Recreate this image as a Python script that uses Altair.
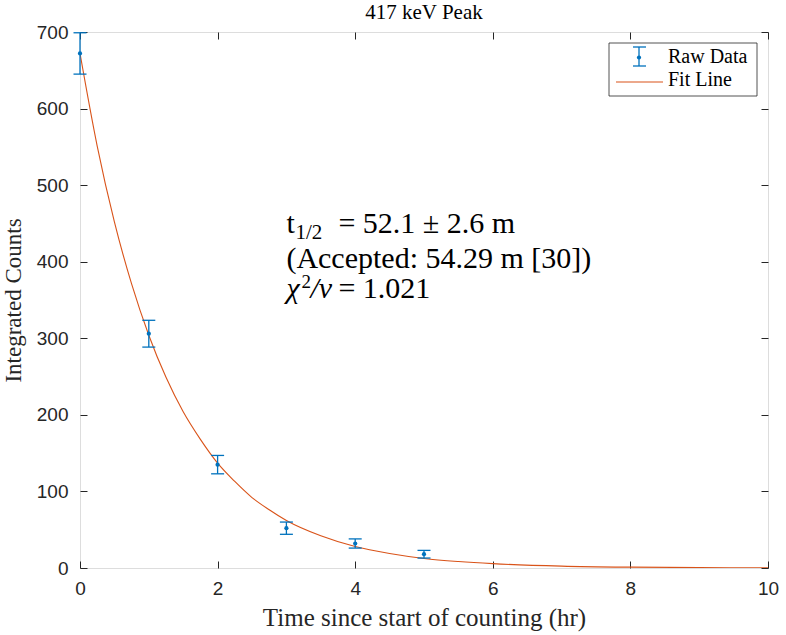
import altair as alt
import pandas as pd

# ---- data ----
time_hr = [0, 1, 2, 3, 4, 5]
counts = [672, 306, 135, 52, 32, 18]
count_err = [27, 17.5, 12, 8, 6, 5]

fit_t = [0, 0.25, 0.5, 0.75, 1, 1.25, 1.5, 1.75, 2, 2.25, 2.5, 2.75, 3,
         3.5, 4, 4.5, 5, 5.5, 6, 7, 8, 9, 10]
fit_c = [672, 551, 452, 371, 304, 249, 204, 168, 137, 113, 92, 76, 62,
         42, 28, 19, 12.5, 8.5, 5.7, 2.5, 1.1, 0.5, 0.2]

x_ticks = [0, 2, 4, 6, 8, 10]
y_ticks = [0, 100, 200, 300, 400, 500, 600, 700]

title_text = "417 keV Peak"
x_title = "Time since start of counting (hr)"
y_title = "Integrated Counts"
legend_labels = ["Raw Data", "Fit Line"]
ann_line1 = ["t", "1/2", "= 52.1 ± 2.6 m"]
ann_line2 = "(Accepted: 54.29 m [30])"
ann_line3 = ["χ", "2", "/ν", "= 1.021"]

BLUE = "#0072BD"
ORANGE = "#D95319"
AX = "#262626"
SERIF = "Liberation Serif"
SANS = "Liberation Sans"

pts = pd.DataFrame({"t": time_hr, "c": counts, "e": count_err})
pts["lo"] = pts["c"] - pts["e"]
pts["hi"] = pts["c"] + pts["e"]
fit = pd.DataFrame({"t": fit_t, "c": fit_c})

xs = alt.Scale(domain=[0, 10], nice=False, zero=False)
ys = alt.Scale(domain=[0, 700], nice=False, zero=False)

ax_bottom = alt.Axis(orient="bottom", offset=-7, tickSize=7, values=x_ticks, domain=False,
                     labelFlush=False, labelPadding=11, labelFont=SANS, labelFontSize=19,
                     labelColor=AX, tickColor=AX, grid=False, title=x_title,
                     titleFont=SERIF, titleFontSize=25, titleFontWeight="normal",
                     titleColor=AX, titlePadding=7)
ax_left = alt.Axis(orient="left", offset=-7, tickSize=7, values=y_ticks, domain=False,
                   labelFlush=False, labelPadding=12, labelFont=SANS, labelFontSize=19,
                   labelColor=AX, tickColor=AX, grid=False, title=y_title,
                   titleFont=SERIF, titleFontSize=23, titleFontWeight="normal",
                   titleColor=AX, titlePadding=11)
ax_top = alt.Axis(orient="top", offset=-7, tickSize=7, values=x_ticks, domain=False,
                  labels=False, tickColor=AX, grid=False, title=None)
ax_right = alt.Axis(orient="right", offset=-7, tickSize=7, values=y_ticks, domain=False,
                    labels=False, tickColor=AX, grid=False, title=None)

fit_line = alt.Chart(fit).mark_line(color=ORANGE, strokeWidth=1.1, interpolate="monotone", clip=True).encode(
    x=alt.X("t:Q", scale=xs, axis=ax_bottom),
    y=alt.Y("c:Q", scale=ys, axis=ax_left),
)

bars = alt.Chart(pts).mark_rule(color=BLUE, strokeWidth=1.3).encode(
    x=alt.X("t:Q", scale=xs, axis=ax_top),
    y=alt.Y("lo:Q", scale=ys, axis=ax_right),
    y2="hi:Q",
)

caps = alt.Chart(pts).transform_fold(["lo", "hi"], as_=["k", "v"]).mark_tick(
    color=BLUE, orient="horizontal", size=13, thickness=1.3, opacity=1).encode(
    x=alt.X("t:Q", scale=xs, axis=None),
    y=alt.Y("v:Q", scale=ys, axis=None),
)

dots = alt.Chart(pts).mark_circle(color=BLUE, size=18, opacity=1).encode(
    x=alt.X("t:Q", scale=xs, axis=None),
    y=alt.Y("c:Q", scale=ys, axis=None),
)

# annotation (anchored in data coordinates)
ann_t = 3.0
ann_ys = [437, 392, 353]


def ann(text, yv, dx=0, dy=0, size=30, style="normal"):
    return alt.Chart(pd.DataFrame({"t": [ann_t], "c": [yv]})).mark_text(
        text=text, align="left", baseline="alphabetic", font=SERIF, fontSize=size,
        fontStyle=style, color="black", dx=dx, dy=dy).encode(
        x=alt.X("t:Q", scale=xs, axis=None),
        y=alt.Y("c:Q", scale=ys, axis=None),
    )


annotations = [
    ann(ann_line1[0], ann_ys[0]),
    ann(ann_line1[1], ann_ys[0], dx=9, dy=6, size=21),
    ann(ann_line1[2], ann_ys[0], dx=52),
    ann(ann_line2, ann_ys[1]),
    ann(ann_line3[0], ann_ys[2], style="italic"),
    ann(ann_line3[1], ann_ys[2], dx=15, dy=-10, size=19),
    ann(ann_line3[2], ann_ys[2], dx=24, style="italic"),
    ann(ann_line3[3], ann_ys[2], dx=52),
]

# legend box (drawn manually, MATLAB style)
one = pd.DataFrame({"a": [0]})
leg_box = alt.Chart(one).mark_rect(fill="white", stroke=AX, strokeWidth=0.8).encode(
    x=alt.value(529), x2=alt.value(677), y=alt.value(11), y2=alt.value(64))
leg_eb = alt.Chart(one).mark_rule(color=BLUE, strokeWidth=1.3).encode(
    x=alt.value(559), y=alt.value(15), y2=alt.value(34))
leg_cap1 = alt.Chart(one).mark_rule(color=BLUE, strokeWidth=1.3).encode(
    x=alt.value(553), x2=alt.value(566), y=alt.value(15))
leg_cap2 = alt.Chart(one).mark_rule(color=BLUE, strokeWidth=1.3).encode(
    x=alt.value(553), x2=alt.value(566), y=alt.value(34))
leg_dot = alt.Chart(one).mark_circle(color=BLUE, size=18, opacity=1).encode(
    x=alt.value(559), y=alt.value(25.5))
leg_line = alt.Chart(one).mark_rule(color=ORANGE, strokeWidth=1.1).encode(
    x=alt.value(536), x2=alt.value(583), y=alt.value(50))
leg_t1 = alt.Chart(one).mark_text(text=legend_labels[0], align="left", baseline="alphabetic",
                                  font=SERIF, fontSize=20, color="black").encode(
    x=alt.value(588), y=alt.value(31))
leg_t2 = alt.Chart(one).mark_text(text=legend_labels[1], align="left", baseline="alphabetic",
                                  font=SERIF, fontSize=20, color="black").encode(
    x=alt.value(588), y=alt.value(54))

chart = alt.layer(
    fit_line, bars, caps, dots, *annotations,
    leg_box, leg_eb, leg_cap1, leg_cap2, leg_dot, leg_line, leg_t1, leg_t2,
).resolve_axis(x="independent", y="independent").properties(
    width=688, height=536,
    title=alt.TitleParams(title_text, font=SERIF, fontSize=21, fontWeight="normal",
                          color="black", anchor="middle", offset=0),
    autosize=alt.AutoSizeParams(type="none"),
    padding={"left": 80, "top": 32, "right": 18, "bottom": 67},
).configure_view(stroke=AX, strokeWidth=1).configure(background="white")

chart.save("out.html", embed_options={"renderer": "svg", "actions": False})
